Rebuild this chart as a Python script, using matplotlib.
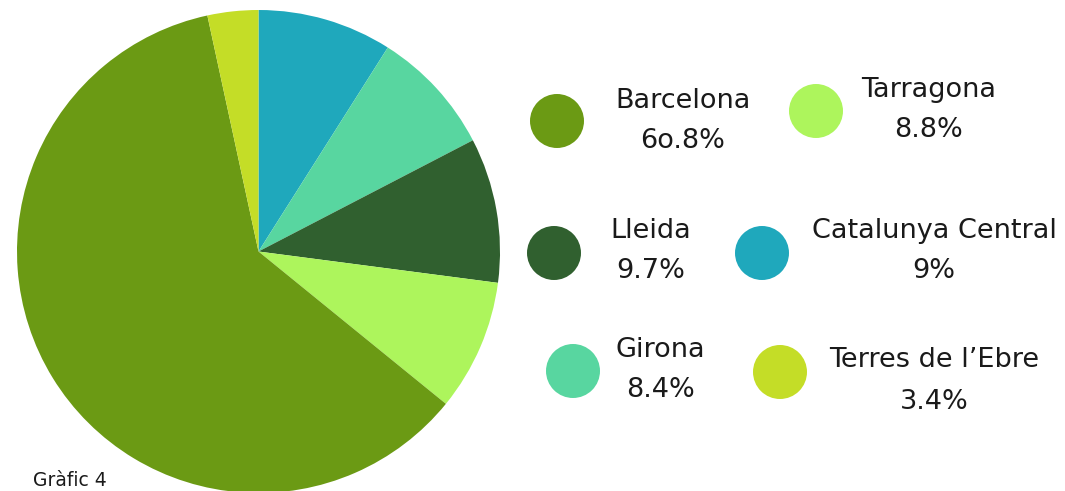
import matplotlib.pyplot as plt
from matplotlib.patches import Circle

# values in pie order, clockwise from 12 o'clock
regions = ["Catalunya Central", "Girona", "Lleida", "Tarragona", "Barcelona", "Terres de l’Ebre"]
shares = [9.0, 8.4, 9.7, 8.8, 60.8, 3.4]
share_labels = ["9%", "8.4%", "9.7%", "8.8%", "6o.8%", "3.4%"]
colors = ["#1fa8bc", "#58d6a0", "#30602f", "#adf55c", "#6b9a14", "#c4dd27"]

W, H = 1065, 491
plt.rcParams["font.family"] = ["DejaVu Sans"]

fig = plt.figure(figsize=(W / 100, H / 100), dpi=100)
ax = fig.add_axes([0, 0, 1, 1])

ax.pie(shares, colors=colors, startangle=90, counterclock=False,
       center=(258.5, H - 251.5), radius=241.5, wedgeprops={"linewidth": 0})

# legend layout: (circle x, circle y, text x, name y, value y) in pixel coords from top
legend_pos = {
    "Barcelona": (557, 121, 683, 101, 141),
    "Tarragona": (816, 111, 929, 90, 130),
    "Lleida": (554, 253, 651, 231, 271),
    "Catalunya Central": (762, 253, 934, 231, 271),
    "Girona": (573, 371, 660, 350, 390),
    "Terres de l’Ebre": (780, 372, 934, 360, 402),
}

for name, val, col in zip(regions, share_labels, colors):
    cx, cy, tx, ny, vy = legend_pos[name]
    ax.add_patch(Circle((cx, H - cy), 27, color=col, lw=0))
    ax.text(tx, H - ny, name, ha="center", va="center", fontsize=19.5, color="#1a1a1a")
    ax.text(tx, H - vy, val, ha="center", va="center", fontsize=19.5, color="#1a1a1a")

ax.text(33, H - 481, "Gràfic 4", ha="left", va="center", fontsize=13.5, color="#1a1a1a")

ax.set_xlim(0, W)
ax.set_ylim(0, H)
ax.set_aspect("auto")
ax.axis("off")

fig.savefig("out.png", dpi=100)
